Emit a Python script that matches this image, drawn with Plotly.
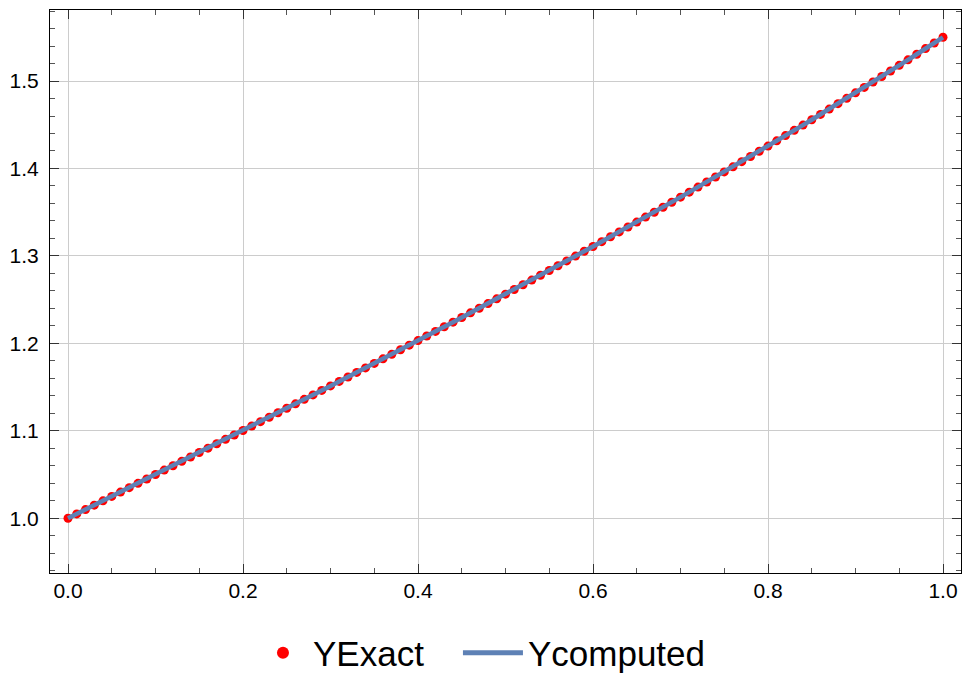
import plotly.graph_objects as go

# x grid (step 0.01)
x_vals = [round(i * 0.01, 2) for i in range(101)]

# Values
y_exact = [
    1.0000, 1.0050, 1.0100, 1.0150, 1.0200, 1.0250, 1.0300, 1.0350, 1.0400, 1.0450,
    1.0501, 1.0551, 1.0601, 1.0651, 1.0701, 1.0752, 1.0802, 1.0852, 1.0903, 1.0953,
    1.1004, 1.1055, 1.1105, 1.1156, 1.1207, 1.1258, 1.1309, 1.1360, 1.1411, 1.1462,
    1.1514, 1.1565, 1.1616, 1.1668, 1.1720, 1.1771, 1.1823, 1.1875, 1.1927, 1.1980,
    1.2032, 1.2084, 1.2137, 1.2190, 1.2243, 1.2296, 1.2349, 1.2402, 1.2455, 1.2509,
    1.2563, 1.2616, 1.2670, 1.2724, 1.2779, 1.2833, 1.2888, 1.2943, 1.2998, 1.3053,
    1.3108, 1.3163, 1.3219, 1.3275, 1.3331, 1.3387, 1.3444, 1.3500, 1.3557, 1.3614,
    1.3672, 1.3729, 1.3787, 1.3845, 1.3903, 1.3961, 1.4019, 1.4078, 1.4137, 1.4197,
    1.4256, 1.4316, 1.4376, 1.4436, 1.4496, 1.4557, 1.4618, 1.4679, 1.4741, 1.4802,
    1.4865, 1.4927, 1.4989, 1.5052, 1.5115, 1.5179, 1.5242, 1.5306, 1.5371, 1.5435,
    1.5500,
]
y_computed = [
    1.0000, 1.0050, 1.0100, 1.0150, 1.0200, 1.0250, 1.0300, 1.0350, 1.0400, 1.0450,
    1.0501, 1.0551, 1.0601, 1.0651, 1.0701, 1.0752, 1.0802, 1.0852, 1.0903, 1.0953,
    1.1004, 1.1055, 1.1105, 1.1156, 1.1207, 1.1258, 1.1309, 1.1360, 1.1411, 1.1462,
    1.1514, 1.1565, 1.1616, 1.1668, 1.1720, 1.1771, 1.1823, 1.1875, 1.1927, 1.1980,
    1.2032, 1.2084, 1.2137, 1.2190, 1.2243, 1.2296, 1.2349, 1.2402, 1.2455, 1.2509,
    1.2563, 1.2616, 1.2670, 1.2724, 1.2779, 1.2833, 1.2888, 1.2943, 1.2998, 1.3053,
    1.3108, 1.3163, 1.3219, 1.3275, 1.3331, 1.3387, 1.3444, 1.3500, 1.3557, 1.3614,
    1.3672, 1.3729, 1.3787, 1.3845, 1.3903, 1.3961, 1.4019, 1.4078, 1.4137, 1.4197,
    1.4256, 1.4316, 1.4376, 1.4436, 1.4496, 1.4557, 1.4618, 1.4679, 1.4741, 1.4802,
    1.4865, 1.4927, 1.4989, 1.5052, 1.5115, 1.5179, 1.5242, 1.5306, 1.5371, 1.5435,
    1.5500,
]

x_ticks = [0.0, 0.2, 0.4, 0.6, 0.8, 1.0]
x_tick_labels = ["0.0", "0.2", "0.4", "0.6", "0.8", "1.0"]
y_ticks = [1.0, 1.1, 1.2, 1.3, 1.4, 1.5]
y_tick_labels = ["1.0", "1.1", "1.2", "1.3", "1.4", "1.5"]

FONT = "Liberation Sans, Arial, sans-serif"

fig = go.Figure()
fig.add_trace(go.Scatter(
    x=x_vals, y=y_exact, mode="markers", name="YExact",
    marker=dict(color="#FF0000", size=9, line=dict(width=0)),
    cliponaxis=False, legend="legend",
))
fig.add_trace(go.Scatter(
    x=x_vals, y=y_computed, mode="lines", name="Ycomputed",
    line=dict(color="#5E81B5", width=4.5),
    legend="legend2",
))

axis_common = dict(
    showline=True, linecolor="#000000", linewidth=1, mirror="ticks",
    ticks="inside", ticklen=9, tickwidth=1, tickcolor="#333333",
    showgrid=True, gridcolor="#cccccc", gridwidth=1,
    zeroline=False, automargin=False,
    tickfont=dict(family=FONT, size=21, color="#000000"),
)

fig.update_xaxes(
    range=[-0.02057, 1.02057],
    tickvals=x_ticks, ticktext=x_tick_labels,
    ticklabelstandoff=-1,
    minor=dict(dtick=0.05, tick0=0, ticks="inside", ticklen=5, tickcolor="#555555", showgrid=False),
    **axis_common,
)
fig.update_yaxes(
    range=[0.93746, 1.5812],
    tickvals=y_ticks, ticktext=y_tick_labels,
    ticklabelstandoff=6,
    minor=dict(dtick=0.02, tick0=0, ticks="inside", ticklen=5, tickcolor="#555555", showgrid=False),
    **axis_common,
)

legend_common = dict(
    orientation="h", xanchor="left", y=-0.142, yanchor="middle",
    font=dict(family=FONT, size=35, color="#000000"),
    itemsizing="constant", bgcolor="rgba(0,0,0,0)", borderwidth=0,
)

fig.update_layout(
    width=963, height=673,
    margin=dict(l=50, r=2, t=10, b=100, autoexpand=False),
    paper_bgcolor="white", plot_bgcolor="white",
    font=dict(family=FONT, color="#000000"),
    showlegend=True,
    legend=dict(x=0.2228, itemwidth=50, **legend_common),
    legend2=dict(x=0.4478, itemwidth=60, **legend_common),
)

fig.write_html(
    "out.html",
    config={"displayModeBar": False},
    post_script="document.body.style.margin='0';document.body.style.padding='0';",
)
